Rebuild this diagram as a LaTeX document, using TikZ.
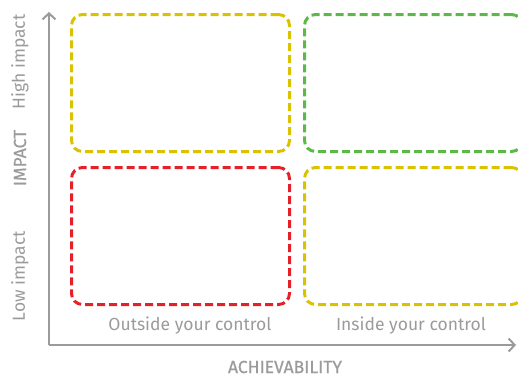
\documentclass[tikz,border=0pt]{standalone}
\usepackage{fontspec}
\setmainfont{Fira Sans}
\usetikzlibrary{arrows.meta,positioning}
\definecolor{axisgrey}{RGB}{155,155,155}
\definecolor{quadyellow}{RGB}{218,194,0}
\definecolor{quadgreen}{RGB}{92,184,72}
\definecolor{quadred}{RGB}{230,32,40}

\begin{document}
\begin{tikzpicture}[x=1pt,y=-1pt,
  quad/.style={draw,line width=3pt,rounded corners=11pt,
               dash pattern=on 8pt off 4pt,minimum width=218pt,minimum height=137pt},
  axis/.style={-{Straight Barb[length=6pt,width=13pt]},line width=2pt,draw=axisgrey},
  lbl/.style={font=\fontsize{17.5}{20}\selectfont,text=axisgrey,inner sep=1pt},
]
\clip (0,0) rectangle (518,378);
% Quadrants
\node[quad,draw=quadyellow] (hiout) at (180.5,83)  {};
\node[quad,draw=quadgreen]  (hiin)  at (413.5,83)  {};
\node[quad,draw=quadred]    (loout) at (180.5,236) {};
\node[quad,draw=quadyellow] (loin)  at (413.5,236) {};

% Axes
\coordinate (origin) at (49,345);
\coordinate (ytip)   at (49,12);
\coordinate (xtip)   at (516,345);
\draw[axis] (origin) -- (ytip);
\draw[axis] (origin) -- (xtip);

% Labels
\node[lbl,rotate=90] (hilbl)  at (20,62)  {High impact};
\node[lbl,rotate=90,font=\fontsize{17.5}{20}\selectfont\addfontfeature{FakeBold=0.6}] (impact) at (20,158) {IMPACT};
\node[lbl,rotate=90] (lolbl)  at (20,276) {Low impact};
\node[lbl] (outlbl) at (190,326) {Outside your control};
\node[lbl] (inlbl)  at (411,326) {Inside your control};
\node[lbl,font=\fontsize{17.5}{20}\selectfont\addfontfeature{FakeBold=0.6}] (achlbl) at (285,367) {ACHIEVABILITY};
\end{tikzpicture}
\end{document}
